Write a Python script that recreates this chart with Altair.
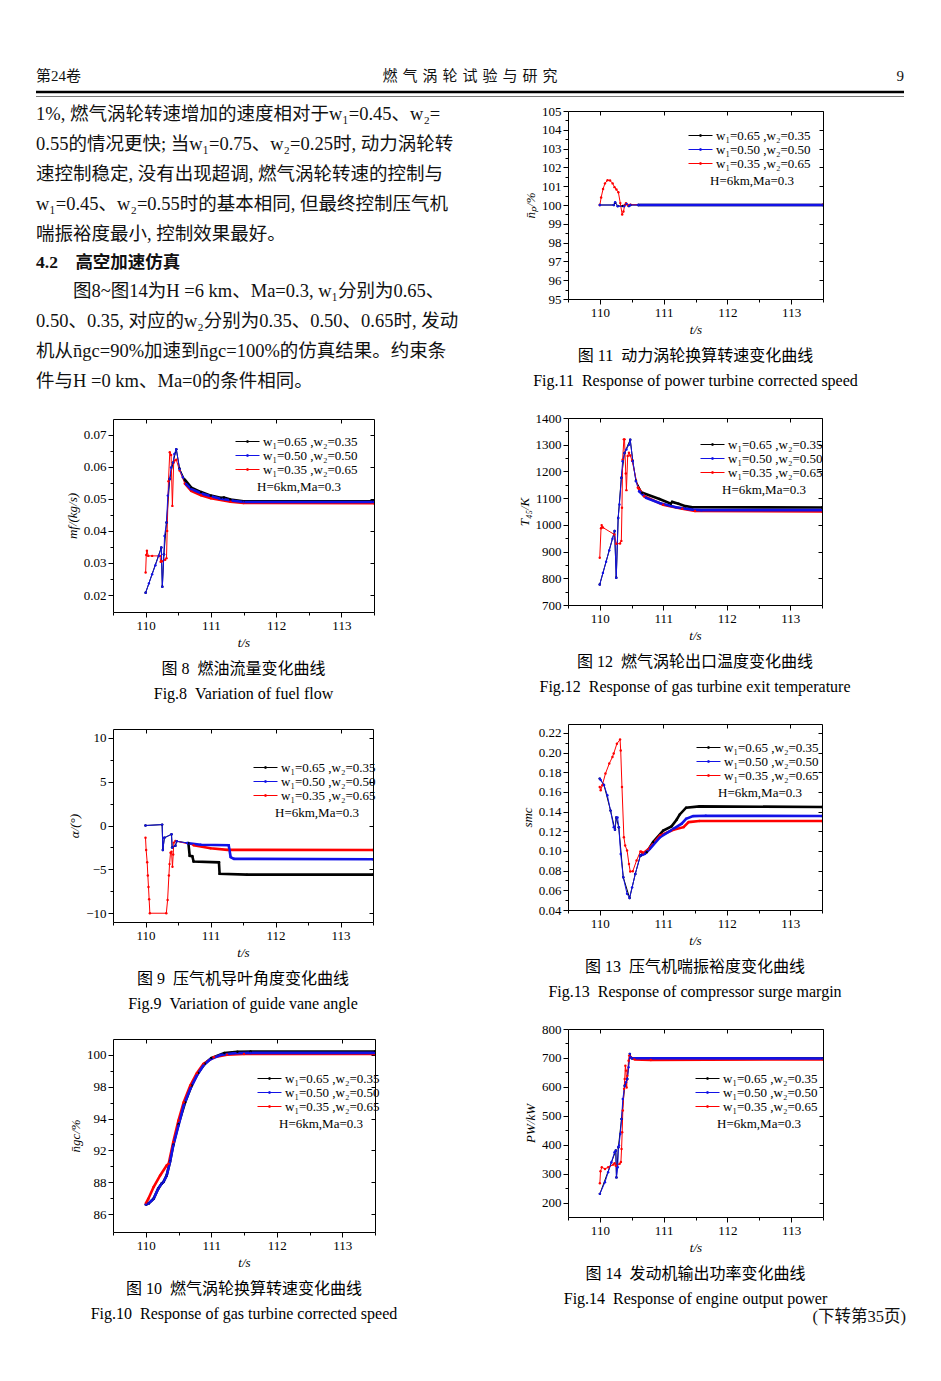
import altair as alt
import pandas as pd

CJK = "Noto Sans CJK SC"
SERIF = "Liberation Serif"
MIXED = "Liberation Serif, Noto Sans CJK SC"

SERIES = ["w\u2081=0.65 ,w\u2082=0.35", "w\u2081=0.50 ,w\u2082=0.50", "w\u2081=0.35 ,w\u2082=0.65"]
SERIES_COLORS = ["#000000", "#1212e6", "#ff0000"]
LEGEND_NOTE = "H=6km,Ma=0.3"

X_DOMAIN = [109.5, 113.5]
X_MAJOR = [110, 111, 112, 113]
X_MINOR = [109.5, 110.5, 111.5, 112.5, 113.5]

# ---------------- Fig 11 : power turbine corrected speed (%)
NP_T_K = [110.0, 110.22, 110.24, 110.28, 110.36, 110.41, 110.45, 110.48, 110.6, 113.5]
NP_V_K = [100.0, 100.0, 100.12, 99.95, 99.95, 100.05, 99.95, 100.0, 100.0, 100.0]
NP_T_B = [110.0, 110.22, 110.24, 110.28, 110.38, 110.42, 110.46, 110.48, 110.6, 113.5]
NP_V_B = [100.0, 100.0, 100.15, 99.93, 99.93, 100.05, 99.95, 100.0, 100.0, 100.0]
NP_T_R = [110.0, 110.02, 110.05, 110.08, 110.12, 110.16, 110.2, 110.23, 110.26, 110.29, 110.32,
          110.35, 110.37, 110.39, 110.41, 110.44, 110.48, 113.5]
NP_V_R = [100.0, 100.4, 100.85, 101.15, 101.32, 101.3, 101.15, 100.95, 100.82, 100.68, 100.1,
          99.5, 99.65, 100.0, 100.1, 100.0, 100.02, 100.02]
NP_MAJOR = [95, 96, 97, 98, 99, 100, 101, 102, 103, 104, 105]

# ---------------- Fig 8 : fuel flow (kg/s)
MF_T_K = [110.0, 110.24, 110.256, 110.28, 110.32, 110.37, 110.42, 110.47, 110.52, 110.6, 110.7,
          110.85, 111.0, 111.15, 111.2, 111.3, 111.5, 113.5]
MF_V_K = [0.0207, 0.0348, 0.0226, 0.0327, 0.0426, 0.0562, 0.0613, 0.0655, 0.0595, 0.056, 0.0535,
          0.0521, 0.051, 0.0503, 0.0504, 0.0498, 0.0492, 0.0492]
MF_T_B = [110.0, 110.05, 110.1, 110.15, 110.2, 110.24, 110.256, 110.28, 110.29, 110.32, 110.34,
          110.37, 110.39, 110.42, 110.44, 110.47, 110.52, 110.57, 110.62, 110.7, 110.88, 111.13,
          111.34, 111.5, 113.5]
MF_V_B = [0.0207, 0.0236, 0.0265, 0.0293, 0.0322, 0.0348, 0.0226, 0.0327, 0.0384, 0.0426, 0.051,
          0.0562, 0.0598, 0.0613, 0.064, 0.0655, 0.0593, 0.0567, 0.0546, 0.053, 0.0515, 0.0501,
          0.0494, 0.049, 0.049]
MF_T_R = [110.0, 110.01, 110.02, 110.04, 110.1, 110.22, 110.23, 110.25, 110.3, 110.32, 110.33,
          110.35, 110.37, 110.39, 110.41, 110.43, 110.45, 110.47, 110.52, 110.6, 110.7, 110.85,
          111.0, 111.3, 111.5, 113.5]
MF_V_R = [0.027, 0.0325, 0.0338, 0.0322, 0.0322, 0.0322, 0.0304, 0.0305, 0.031, 0.0315, 0.04,
          0.0555, 0.0645, 0.0637, 0.0478, 0.0613, 0.062, 0.0622, 0.0588, 0.0548, 0.0525, 0.0511,
          0.0502, 0.0491, 0.0487, 0.0486]
MF_MAJOR = [0.02, 0.03, 0.04, 0.05, 0.06, 0.07]

# ---------------- Fig 12 : gas turbine exit temperature (K)
T45_T_K = [110.0, 110.234, 110.26, 110.29, 110.34, 110.39, 110.48, 110.52, 110.57, 110.67, 110.94,
           111.12, 111.14, 111.24, 111.35, 111.46, 113.5]
T45_V_K = [777, 977, 802, 1026, 1176, 1269, 1319, 1240, 1165, 1120, 1097, 1079, 1086, 1079, 1070,
           1066, 1065]
T45_T_B = [110.0, 110.05, 110.1, 110.15, 110.2, 110.234, 110.26, 110.29, 110.31, 110.34, 110.36,
           110.39, 110.42, 110.46, 110.48, 110.52, 110.57, 110.62, 110.73, 110.94, 111.2, 111.46,
           111.6, 113.5]
T45_V_B = [777, 820, 862, 905, 948, 977, 802, 1026, 1076, 1176, 1238, 1269, 1282, 1300, 1319, 1238,
           1163, 1126, 1101, 1082, 1066, 1057, 1055, 1055]
T45_T_R = [110.0, 110.02, 110.03, 110.05, 110.23, 110.26, 110.32, 110.34, 110.35, 110.36, 110.38,
           110.39, 110.41, 110.42, 110.44, 110.46, 110.48, 110.51, 110.6, 110.7, 111.0, 111.3,
           111.5, 113.5]
T45_V_R = [877, 987, 999, 990, 964, 929, 930, 940, 1064, 1244, 1320, 1320, 1192, 1130, 1258, 1270,
           1260, 1240, 1140, 1107, 1075, 1060, 1052, 1050]
T45_MAJOR = [700, 800, 900, 1000, 1100, 1200, 1300, 1400]

# ---------------- Fig 9 : guide vane angle (deg)
AL_T_K = [110.0, 110.256, 110.267, 110.29, 110.4, 110.41, 110.46, 110.48, 110.66, 110.68, 110.72,
          110.74, 111.13, 111.14, 111.56, 113.5]
AL_V_K = [0.0, 0.1, -2.8, -1.4, -1.0, -2.5, -2.3, -1.8, -2.0, -3.45, -3.5, -4.1, -4.2, -5.5, -5.6,
          -5.6]
AL_T_B = [110.0, 110.256, 110.267, 110.29, 110.4, 110.41, 110.46, 110.48, 110.64, 110.85, 111.28,
          111.31, 111.36, 113.5]
AL_V_B = [0.0, 0.1, -2.8, -1.4, -1.0, -2.5, -2.3, -1.8, -2.0, -2.2, -2.25, -3.6, -3.8, -3.85]
AL_T_R = [110.0, 110.01, 110.026, 110.036, 110.046, 110.056, 110.067, 110.32, 110.34, 110.36,
          110.37, 110.385, 110.4, 110.415, 110.426, 110.436, 110.46, 110.74, 111.0, 111.26, 113.5]
AL_V_R = [-1.4, -2.8, -4.2, -5.7, -7.0, -8.4, -10.0, -10.0, -8.5, -5.7, -4.4, -3.1, -3.0, -4.7,
          -3.3, -1.95, -1.75, -2.25, -2.6, -2.78, -2.8]
AL_MAJOR = [-10, -5, 0, 5, 10]

# ---------------- Fig 13 : compressor surge margin
SMC_T_K = [110.0, 110.067, 110.17, 110.24, 110.26, 110.3, 110.37, 110.47, 110.56, 110.64, 110.74,
           110.84, 111.0, 111.13, 111.21, 111.26, 111.36, 111.57, 113.5]
SMC_V_K = [0.1735, 0.167, 0.141, 0.1215, 0.134, 0.124, 0.0733, 0.0522, 0.0767, 0.0954, 0.0988,
           0.109, 0.1208, 0.125, 0.1317, 0.1371, 0.144, 0.1453, 0.1447]
SMC_T_B = [110.0, 110.015, 110.067, 110.12, 110.17, 110.22, 110.24, 110.26, 110.28, 110.3, 110.33,
           110.37, 110.43, 110.47, 110.51, 110.56, 110.64, 110.71, 110.79, 110.95, 111.16, 111.29,
           111.36, 111.47, 111.67, 113.5]
SMC_V_B = [0.1735, 0.172, 0.167, 0.1565, 0.141, 0.124, 0.1215, 0.134, 0.134, 0.124, 0.097, 0.0733,
           0.0564, 0.0522, 0.063, 0.0767, 0.0954, 0.0971, 0.1022, 0.114, 0.1225, 0.1277, 0.1327,
           0.1354, 0.1358, 0.1355]
SMC_T_R = [110.0, 110.015, 110.04, 110.09, 110.15, 110.2, 110.22, 110.27, 110.32, 110.33, 110.35,
           110.38, 110.4, 110.43, 110.46, 110.48, 110.52, 110.58, 110.64, 110.69, 110.77, 110.95,
           111.16, 111.32, 111.4, 111.57, 113.5]
SMC_V_R = [0.165, 0.1616, 0.1667, 0.1786, 0.1888, 0.1955, 0.199, 0.209, 0.2132, 0.202, 0.165, 0.114,
           0.1056, 0.1005, 0.0867, 0.0791, 0.0794, 0.0903, 0.0995, 0.098, 0.102, 0.1157, 0.1215,
           0.1242, 0.1293, 0.1304, 0.1305]
SMC_MAJOR = [0.04, 0.06, 0.08, 0.10, 0.12, 0.14, 0.16, 0.18, 0.20, 0.22]

# ---------------- Fig 10 : gas turbine corrected speed (%)
NGC_T_K = [110.0, 110.04, 110.12, 110.19, 110.24, 110.27, 110.32, 110.37, 110.42, 110.5, 110.6,
           110.7, 110.8, 110.9, 111.0, 111.2, 111.4, 111.6, 113.5]
NGC_V_K = [86.85, 86.93, 87.37, 88.25, 88.68, 88.83, 89.41, 90.6, 92.1, 93.9, 95.8, 97.3, 98.4,
           99.2, 99.7, 100.15, 100.25, 100.27, 100.27]
NGC_T_B = [110.0, 110.04, 110.12, 110.19, 110.24, 110.27, 110.32, 110.37, 110.42, 110.5, 110.58,
           110.68, 110.78, 110.88, 110.98, 111.14, 111.34, 111.6, 113.5]
NGC_V_B = [86.85, 86.93, 87.37, 88.25, 88.68, 88.83, 89.41, 90.58, 92.04, 93.79, 95.54, 97.0,
           98.16, 99.04, 99.56, 99.97, 100.12, 100.15, 100.15]
NGC_T_R = [110.0, 110.04, 110.12, 110.22, 110.32, 110.35, 110.42, 110.5, 110.58, 110.68, 110.78,
           110.88, 111.04, 111.24, 111.5, 113.5]
NGC_V_R = [86.93, 87.37, 88.39, 89.41, 90.29, 90.43, 92.33, 94.23, 95.83, 97.29, 98.37, 99.18,
           99.77, 100.0, 100.05, 100.05]
NGC_TICK_VALUES = [86, 88.8, 91.6, 94.4, 97.2, 100]
NGC_TICK_LABELS = ["86", "88", "92", "94", "98", "100"]

# ---------------- Fig 14 : engine output power (kW)
PW_T_K = [110.0, 110.25, 110.26, 110.29, 110.34, 110.39, 110.43, 110.47, 110.5, 113.5]
PW_V_K = [230, 380, 287, 391, 489, 604, 627, 714, 699, 698]
PW_T_B = [110.0, 110.08, 110.13, 110.18, 110.23, 110.25, 110.26, 110.28, 110.29, 110.3, 110.32,
          110.34, 110.36, 110.39, 110.41, 110.43, 110.45, 110.47, 110.48, 110.5, 113.5]
PW_V_B = [230, 270, 305, 339, 374, 380, 287, 322, 391, 397, 437, 489, 558, 604, 616, 627, 668, 714,
          702, 699, 698]
PW_T_R = [110.0, 110.01, 110.03, 110.08, 110.13, 110.21, 110.23, 110.25, 110.31, 110.33, 110.34,
          110.35, 110.36, 110.38, 110.39, 110.4, 110.41, 110.42, 110.43, 110.45, 110.46, 110.49,
          110.54, 110.8, 113.5]
PW_V_R = [267, 308, 322, 316, 322, 331, 336, 327, 334, 340, 385, 443, 518, 593, 627, 673, 656, 598,
          638, 690, 708, 702, 695, 693, 695]
PW_MAJOR = [200, 300, 400, 500, 600, 700, 800]

# ---------------- page text
SP = "\u2002"
C = ",\u2005"
HEADER_LEFT = "第24卷"
HEADER_MID = "\u2004".join("燃气涡轮试验与研究")
HEADER_RIGHT = "9"
PARA_A = [
    "1%" + C + "燃气涡轮转速增加的速度相对于w\u2081=0.45、w\u2082=",
    "0.55的情况更快;\u2005当w\u2081=0.75、w\u2082=0.25时" + C + "动力涡轮转",
    "速控制稳定" + C + "没有出现超调" + C + "燃气涡轮转速的控制与",
    "w\u2081=0.45、w\u2082=0.55时的基本相同" + C + "但最终控制压气机",
    "喘振裕度最小" + C + "控制效果最好。",
]
HEADING = "4.2\u2003高空加速仿真"
PARA_B_FIRST = "图8~图14为H =6 km、Ma=0.3" + C + "w\u2081分别为0.65、"
PARA_B = [
    "0.50、0.35" + C + "对应的w\u2082分别为0.35、0.50、0.65时" + C + "发动",
    "机从n\u0304gc=90%加速到n\u0304gc=100%的仿真结果。约束条",
    "件与H =0 km、Ma=0的条件相同。",
]
FOOT_NOTE = "(下转第35页)"

LEG_SYMBOL = "M-2.4,0H2.4M-0.15,-0.15H0.15V0.15H-0.15Z"


def series_df(tk, vk, tb, vb, tr, vr):
    rows = []
    for name, ts, vs in [(SERIES[0], tk, vk), (SERIES[2], tr, vr), (SERIES[1], tb, vb)]:
        rows += [{"series": name, "t": t, "v": v} for t, v in zip(ts, vs)]
    return pd.DataFrame(rows)


def midpoints(vals):
    return [round((a + b) / 2, 6) for a, b in zip(vals[:-1], vals[1:])]


def panel(df, w, h, ydom, ymaj, yminor, ytitle, yfmt, settle, legx, legy,
          cap_cn, cap_en, label_expr=None):
    xs = alt.Scale(domain=X_DOMAIN, nice=False, zero=False)
    ys = alt.Scale(domain=ydom, nice=False, zero=False)
    cs = alt.Scale(domain=SERIES, range=SERIES_COLORS)
    yax = dict(values=ymaj, orient="left", tickSize=5, title=ytitle, domain=False)
    if yfmt:
        yax["format"] = yfmt
    if label_expr:
        yax["labelExpr"] = label_expr
    base = alt.Chart(df)
    legend = alt.Legend(
        orient="none", legendX=legx + 7, legendY=legy, title=LEGEND_NOTE,
        titleOrient="bottom", titleAnchor="middle", titleFont=SERIF, titleFontSize=13,
        titleFontWeight="normal", titleColor="black", titlePadding=4,
        labelFont=SERIF, labelFontSize=13, labelColor="black", labelOffset=9,
        symbolType=LEG_SYMBOL, symbolSize=100, symbolStrokeWidth=1, rowPadding=0,
        padding=0,
    )
    main = base.mark_line(strokeWidth=1, clip=True).encode(
        x=alt.X("t:Q", scale=xs, axis=alt.Axis(values=X_MAJOR, orient="bottom", tickSize=5,
                                               title="t/s", format="d", domain=False)),
        y=alt.Y("v:Q", scale=ys, axis=alt.Axis(**yax)),
        color=alt.Color("series:N", scale=cs, legend=legend),
    )
    thick = base.transform_filter(alt.datum.t >= settle).mark_line(strokeWidth=2.6, clip=True).encode(
        x=alt.X("t:Q", scale=xs, axis=None),
        y=alt.Y("v:Q", scale=ys, axis=None),
        color=alt.Color("series:N", scale=cs, legend=None),
    )
    pts = base.mark_circle(size=6, opacity=1, clip=True).encode(
        x=alt.X("t:Q", scale=xs, axis=None),
        y=alt.Y("v:Q", scale=ys, axis=None),
        color=alt.Color("series:N", scale=cs, legend=None),
    )
    minor = base.mark_line(opacity=0).encode(
        x=alt.X("t:Q", scale=xs, axis=alt.Axis(values=X_MINOR, orient="bottom", tickSize=3,
                                               labels=False, domain=False, title=None)),
        y=alt.Y("v:Q", scale=ys, axis=alt.Axis(values=yminor, orient="left", tickSize=3,
                                               labels=False, domain=False, title=None)),
    )
    frame = base.mark_line(opacity=0).encode(
        x=alt.X("t:Q", scale=xs, axis=alt.Axis(values=X_MAJOR, orient="top", tickSize=4, offset=-4,
                                               labels=False, domain=False, title=None)),
        y=alt.Y("v:Q", scale=ys, axis=alt.Axis(values=ymaj, orient="right", tickSize=4, offset=-4,
                                               labels=False, domain=False, title=None)),
    )
    return alt.layer(main, thick, pts, minor, frame).resolve_axis(
        x="independent", y="independent").properties(
        width=w, height=h,
        title=alt.TitleParams(
            text=cap_cn, subtitle=cap_en, orient="bottom", anchor="middle",
            font=MIXED, fontSize=16, fontWeight="normal", color="black", offset=11.5,
            subtitleFont=SERIF, subtitleFontSize=16, subtitleColor="black", subtitlePadding=9.5,
        ),
    )


one = pd.DataFrame({"k": [0]})


def txt(text, x, y, size=18.5, align="left", weight="normal", font=MIXED, baseline="top", lh=30):
    kw = dict(text=text, align=align, baseline=baseline, font=font, fontSize=size,
              fontWeight=weight, color="#111111")
    if "\n" in text:
        kw.update(lineBreak="\n", lineHeight=lh)
    return alt.Chart(one).mark_text(**kw).encode(x=alt.value(x), y=alt.value(y))


def hrule(x1, x2, y, sw, col):
    return alt.Chart(one).mark_rule(strokeWidth=sw, color=col).encode(
        x=alt.value(x1), x2=alt.value(x2), y=alt.value(y))


anchor = alt.Chart(one).mark_rule(opacity=0, strokeWidth=1).encode(
    x=alt.value(-104), x2=alt.value(-103), y=alt.value(-102))

para = alt.layer(
    anchor,
    txt(HEADER_LEFT, -77, -35, size=15, baseline="middle"),
    txt(HEADER_MID, 357, -35, size=15, align="center", baseline="middle"),
    txt(HEADER_RIGHT, 791, -35, size=15, align="right", baseline="middle"),
    hrule(-77, 791, -19, 2.6, "black"),
    hrule(-77, 791, -14.5, 0.8, "#555555"),
    txt("\n".join(PARA_A), -77, -6),
    txt(HEADING, -77, 143, size=17.5, weight="bold"),
    txt(PARA_B_FIRST, -40, 171),
    txt("\n".join(PARA_B), -77, 201),
    txt(FOOT_NOTE, 793, 1206, size=16.5, align="right", baseline="middle"),
).properties(width=261, height=191, view=alt.ViewBackground(stroke="transparent"))

f11 = panel(series_df(NP_T_K, NP_V_K, NP_T_B, NP_V_B, NP_T_R, NP_V_R), 255, 188, [95, 105],
            NP_MAJOR, midpoints(NP_MAJOR), "n\u0304\u209a/%", "d", 110.5, 119, 18,
            "图 11" + SP + "动力涡轮换算转速变化曲线",
            "Fig.11" + SP + "Response of power turbine corrected speed")
f8 = panel(series_df(MF_T_K, MF_V_K, MF_T_B, MF_V_B, MF_T_R, MF_V_R), 261, 193, [0.0147, 0.0749],
           MF_MAJOR, midpoints(MF_MAJOR), "mf/(kg/s)", ".2f", 110.6, 121, 16,
           "图 8" + SP + "燃油流量变化曲线", "Fig.8" + SP + "Variation of fuel flow")
f12 = panel(series_df(T45_T_K, T45_V_K, T45_T_B, T45_V_B, T45_T_R, T45_V_R), 254, 187, [700, 1400],
            T45_MAJOR, midpoints(T45_MAJOR), "T\u2084\u2085/K", "d", 110.6, 131, 20,
            "图 12" + SP + "燃气涡轮出口温度变化曲线",
            "Fig.12" + SP + "Response of gas turbine exit temperature")
f9 = panel(series_df(AL_T_K, AL_V_K, AL_T_B, AL_V_B, AL_T_R, AL_V_R), 260, 193, [-11, 11],
           AL_MAJOR, midpoints(AL_MAJOR), "\u03b1/(\u00b0)", "d", 110.5, 139, 32,
           "图 9" + SP + "压气机导叶角度变化曲线", "Fig.9" + SP + "Variation of guide vane angle")
f13 = panel(series_df(SMC_T_K, SMC_V_K, SMC_T_B, SMC_V_B, SMC_T_R, SMC_V_R), 254, 186, [0.04, 0.229],
            SMC_MAJOR, midpoints(SMC_MAJOR), "smc", ".2f", 110.6, 127, 17,
            "图 13" + SP + "压气机喘振裕度变化曲线",
            "Fig.13" + SP + "Response of compressor surge margin")

ngc_expr = " : ".join(
    f"datum.value < {v + 0.5} ? '{lab}'" for v, lab in zip(NGC_TICK_VALUES[:-1], NGC_TICK_LABELS[:-1])
) + f" : '{NGC_TICK_LABELS[-1]}'"
f10 = panel(series_df(NGC_T_K, NGC_V_K, NGC_T_B, NGC_V_B, NGC_T_R, NGC_V_R), 262, 193, [84.45, 101.37],
            NGC_TICK_VALUES, midpoints(NGC_TICK_VALUES), "n\u0304gc/%", None, 110.0, 143, 33,
            "图 10" + SP + "燃气涡轮换算转速变化曲线",
            "Fig.10" + SP + "Response of gas turbine corrected speed",
            label_expr=ngc_expr)
f14 = panel(series_df(PW_T_K, PW_V_K, PW_T_B, PW_V_B, PW_T_R, PW_V_R), 255, 188, [150, 800],
            PW_MAJOR, midpoints(PW_MAJOR), "PW/kW", "d", 110.5, 126, 43,
            "图 14" + SP + "发动机输出功率变化曲线",
            "Fig.14" + SP + "Response of engine output power")

left_col = alt.vconcat(para, f8, f9, f10, spacing=117, bounds="flush").resolve_legend(
    color="independent")
right_col = alt.vconcat(f11, f12, f13, f14, spacing=119, bounds="flush").resolve_legend(
    color="independent")

chart = alt.hconcat(left_col, right_col, spacing=455, bounds="flush").resolve_legend(
    color="independent").properties(
    padding=0, background="white"
).configure_view(stroke="black", strokeWidth=1).configure_axis(
    labelFont=SERIF, labelFontSize=13, labelColor="black", labelPadding=2,
    labelFlush=False, labelOverlap=False,
    titleFont=SERIF, titleFontSize=13, titleFontWeight="normal", titleFontStyle="italic",
    titleColor="black", titlePadding=4, tickColor="black", grid=False,
)

chart.save("out.html", embed_options={"renderer": "svg", "actions": False})
